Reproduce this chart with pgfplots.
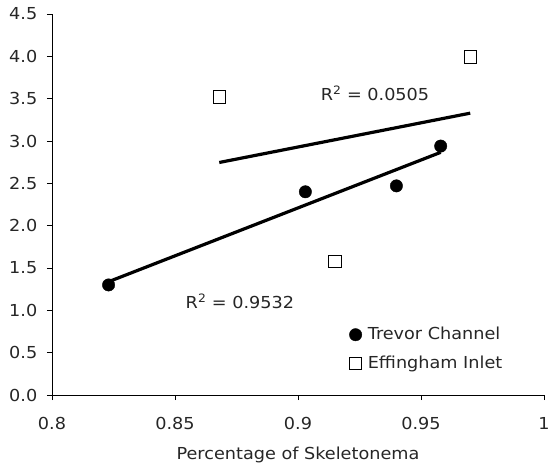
\documentclass[border=0pt]{standalone}
\usepackage{fontspec}
\setmainfont{DejaVu Sans}[FakeStretch=1.07]
\usepackage{pgfplots}
\usepackage{pgfplotstable}
\pgfplotsset{compat=1.18}
\pgfplotstableread{
X Y
0.823 1.30
0.903 2.40
0.940 2.47
0.958 2.94
}\trevor
\pgfplotstableread{
X Y
0.868 3.52
0.915 1.58
0.970 3.99
}\effingham
\begin{document}
\fontsize{16.5bp}{19bp}\selectfont
\begin{tikzpicture}
\begin{axis}[
  name=ax,
  scale only axis,
  width=492bp, height=381bp,
  xmin=0.8, xmax=1, ymin=0, ymax=4.5,
  axis lines*=left,
  axis line style={line width=0.8bp},
  tick align=outside,
  major tick length=5bp,
  tick style={line width=0.8bp, black},
  xtick={0.8,0.85,0.9,0.95,1},
  ytick={0,0.5,...,4.5},
  xticklabels={0.8,0.85,0.9,0.95,1},
  /pgf/number format/assume math mode=true,
  tick label style={font=\fontsize{16.5bp}{19bp}\selectfont, text=black!85},
  xticklabel style={yshift=-12bp},
  yticklabel style={xshift=-4bp, /pgf/number format/.cd, fixed, fixed zerofill, precision=1},
  label style={font=\fontsize{16.5bp}{19bp}\selectfont, text=black!85},
  xlabel={Percentage of Skeletonema},
  xlabel style={yshift=-6bp},
  clip=false,
  legend style={draw=none, fill=none, at={(axis cs:0.9196,0.85)}, anchor=north west,
    font=\fontsize{16.5bp}{19bp}\selectfont, text=black!85, row sep=10bp,
    /tikz/every odd column/.append style={column sep=4bp}},
  legend cell align=left,
]
\addplot[only marks, mark=*, mark size=6.2bp, black] table[x=X,y=Y] {\trevor};
\addlegendentry{Trevor Channel}
\addplot[only marks, mark=square, mark size=6.2bp, black, mark options={line width=1bp, fill=white}] table[x=X,y=Y] {\effingham};
\addlegendentry{Effingham Inlet}
\addplot[black, line width=3.2bp, forget plot] table[x=X, y={create col/linear regression={y=Y}}] {\trevor};
\addplot[black, line width=3.2bp, forget plot] table[x=X, y={create col/linear regression={y=Y}}] {\effingham};
\node[text=black!85] at (axis cs:0.9313,3.56) {R\textsuperscript{2} = 0.0505};
\node[text=black!85] at (axis cs:0.8764,1.11) {R\textsuperscript{2} = 0.9532};
\end{axis}
\pgfresetboundingbox
\path ([shift={(-52bp,-76bp)}]ax.south west) rectangle ([shift={(6bp,14bp)}]ax.north east);
\end{tikzpicture}
\end{document}
